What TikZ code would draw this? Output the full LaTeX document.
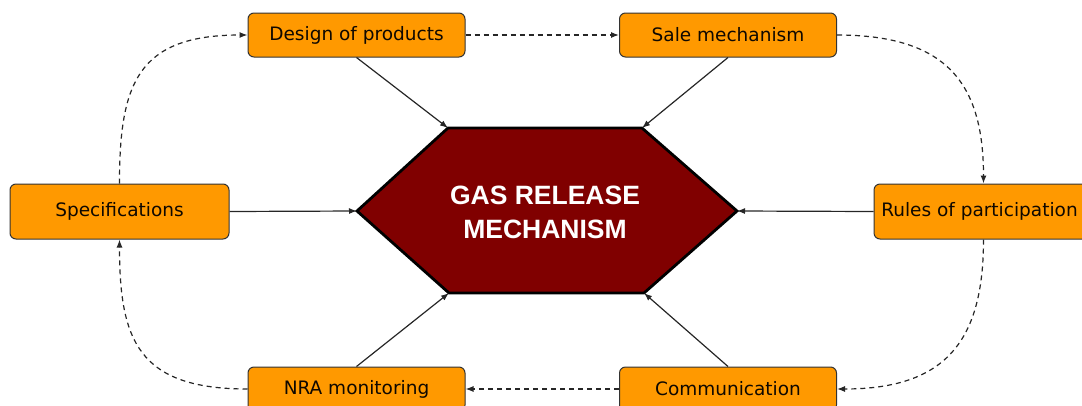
\documentclass[tikz,border=0pt]{standalone}
\usepackage{fontspec}
\setmainfont{DejaVu Sans}
\newfontfamily\hexfont{Liberation Sans}
\usetikzlibrary{arrows.meta}
\definecolor{boxorange}{HTML}{FF9900}
\definecolor{hexred}{HTML}{800000}
\begin{document}
\begin{tikzpicture}[x=1pt,y=-1pt,
  box/.style={draw=black!80, line width=1pt, fill=boxorange, rounded corners=6pt,
    minimum width=217pt, minimum height=44pt, inner sep=0pt, text=black!90!orange!60!black, font=\fontsize{18.5}{20}\selectfont},
  solidarrow/.style={draw=black!85, line width=1.2pt, -{Latex[length=8pt,width=6pt]}},
  dasharrow/.style={draw=black!85, line width=1.2pt, dash pattern=on 5pt off 4pt, -{Latex[length=8pt,width=6pt]}}
]
\useasboundingbox (0,0) rectangle (1082,405);
\clip (0,0) rectangle (1082,405);
% hexagon
\coordinate (hl) at (357,211);
\coordinate (hr) at (737,211);
\coordinate (htl) at (448,128);
\coordinate (htr) at (642,128);
\coordinate (hbl) at (449,293);
\coordinate (hbr) at (644,293);
\fill[hexred] (hl) -- (htl) -- (htr) -- (hr) -- (hbr) -- (hbl) -- cycle;
\draw[black, line width=2.8pt, line join=miter] (hl) -- (htl) -- (htr) -- (hr) -- (hbr) -- (hbl) -- cycle;
\node[text=white, align=center, font=\hexfont\bfseries\fontsize{26.5}{34}\selectfont] (hex) at (545,212) {GAS RELEASE\\MECHANISM};
% boxes
\node[box] (design) at (356.5,35) {Design of products};
\node[box] (sale) at (728,35) {Sale mechanism};
\node[box, minimum width=219pt, minimum height=55pt] (spec) at (119.5,211.5) {Specifications};
\node[box, minimum width=219pt, minimum height=55pt] (rules) at (983.5,211.5) {\hspace*{-8pt}Rules of participation};
\node[box] (nra) at (356.5,389) {NRA monitoring};
\node[box] (comm) at (728,389) {Communication};
% solid arrows
\draw[solidarrow] (design.south) -- (htl);
\draw[solidarrow] (sale.south) -- (htr);
\draw[solidarrow] (spec.east) -- (hl);
\draw[solidarrow] (rules.west) -- (hr);
\draw[solidarrow] (nra.north) -- (hbl);
\draw[solidarrow] (comm.north) -- (hbr);
% dashed arrows
\draw[dasharrow] (design.east) -- (sale.west);
\draw[dasharrow] (sale.east) .. controls +(110,0) and +(0,-100) .. (rules.north);
\draw[dasharrow] (rules.south) .. controls +(0,100) and +(110,0) .. (comm.east);
\draw[dasharrow] (comm.west) -- (nra.east);
\draw[dasharrow] (nra.west) .. controls +(-110,0) and +(0,100) .. (spec.south);
\draw[dasharrow] (spec.north) .. controls +(0,-100) and +(-110,0) .. (design.west);
\end{tikzpicture}
\end{document}
